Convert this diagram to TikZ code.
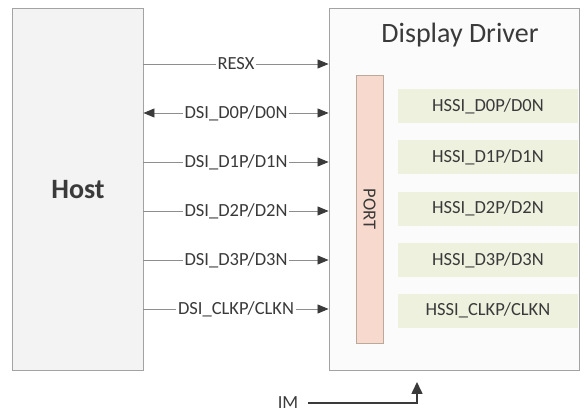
\documentclass[tikz,border=0pt]{standalone}
\usepackage{fontspec}
\setmainfont{Carlito}
\usetikzlibrary{arrows.meta,positioning}

\definecolor{boxline}{HTML}{A3A3A3}
\definecolor{hostfill}{HTML}{F3F3F3}
\definecolor{drvfill}{HTML}{FBFBFB}
\definecolor{portfill}{HTML}{F8D9CD}
\definecolor{portline}{HTML}{BBA99B}
\definecolor{hssifill}{HTML}{EFF1DF}
\definecolor{txt}{HTML}{3A3A3A}
\definecolor{busline}{HTML}{8E8E8E}

\begin{document}
\begin{tikzpicture}[x=1pt, y=-1pt, font=\fontsize{18.5}{21}\selectfont, text=txt,
  block/.style={draw=boxline, line width=0.9pt, rectangle, inner sep=0pt},
  hssi/.style={fill=hssifill, rectangle, minimum width=180pt, minimum height=34pt, inner sep=0pt},
  bus/.style={draw=busline, line width=0.8pt, -{Triangle[length=11pt, width=9pt, color=txt]}},
  sig/.style={fill=white, inner sep=2pt},
  imarrow/.style={draw=txt, line width=1.6pt, -{Triangle[length=12pt, width=11pt]}}]
\useasboundingbox (0,0) rectangle (584,419);
% host and display driver
\node[block, fill=hostfill, minimum width=131pt, minimum height=362pt] (host) at (77.5,189) {};
\node[font=\fontsize{28}{32}\selectfont\bfseries] (hostlbl) at (78,190) {Host};
\node[block, fill=drvfill, minimum width=250pt, minimum height=362pt] (drv) at (454,189) {};
\node[font=\fontsize{28}{32}\selectfont] (title) at (460,35) {Display Driver};
\node[block, draw=portline, fill=portfill, line width=0.8pt, minimum width=27pt, minimum height=268pt] (port) at (369.5,209) {};
\node[rotate=-90] (portlbl) at (port.center) {PORT};
% lanes inside the driver
\node[hssi] (h0) at (488,106) {HSSI\_D0P/D0N};
\node[hssi, below=17pt of h0] (h1) {HSSI\_D1P/D1N};
\node[hssi, below=17pt of h1] (h2) {HSSI\_D2P/D2N};
\node[hssi, below=17pt of h2] (h3) {HSSI\_D3P/D3N};
\node[hssi, below=16pt of h3] (hc) {HSSI\_CLKP/CLKN};
% host to driver signals
\draw[bus] (host.east |- 0,64) -- node[sig]{RESX} (drv.west |- 0,64);
\draw[bus, {Triangle[length=11pt, width=9pt, color=txt]}-{Triangle[length=11pt, width=9pt, color=txt]}] (host.east |- 0,113) -- node[sig]{DSI\_D0P/D0N} (drv.west |- 0,113);
\draw[bus] (host.east |- 0,162) -- node[sig]{DSI\_D1P/D1N} (drv.west |- 0,162);
\draw[bus] (host.east |- 0,211) -- node[sig]{DSI\_D2P/D2N} (drv.west |- 0,211);
\draw[bus] (host.east |- 0,260) -- node[sig]{DSI\_D3P/D3N} (drv.west |- 0,260);
\draw[bus] (host.east |- 0,309) -- node[sig]{DSI\_CLKP/CLKN} (drv.west |- 0,309);
% IM select
\node (im) at (288,403) {IM};
\coordinate (imtip) at (417,382);
\draw[imarrow] ([xshift=6pt]im.east) -| (imtip);
\end{tikzpicture}
\end{document}
